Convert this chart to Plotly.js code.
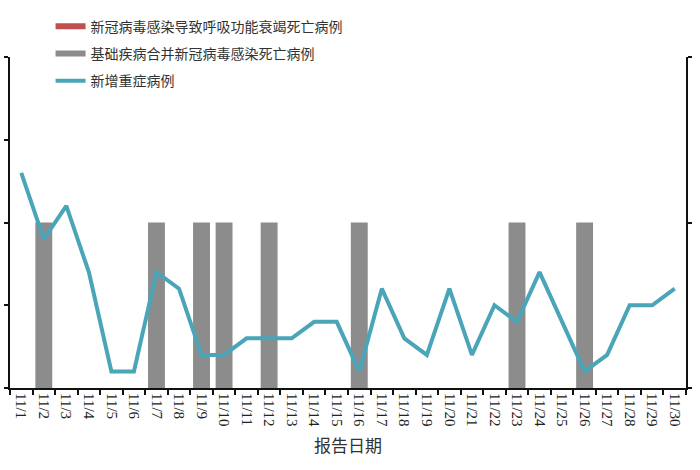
<!DOCTYPE html>
<html>
<head>
<meta charset="utf-8">
<script src="https://cdn.plot.ly/plotly-3.0.1.min.js"></script>
<style>
  html, body { margin: 0; padding: 0; background: #fff; }
  #chart { width: 700px; height: 470px; }
</style>
</head>
<body>
<div id="chart"></div>
<script>
// 报告日期
const dates = ["11/1","11/2","11/3","11/4","11/5","11/6","11/7","11/8","11/9","11/10",
  "11/11","11/12","11/13","11/14","11/15","11/16","11/17","11/18","11/19","11/20",
  "11/21","11/22","11/23","11/24","11/25","11/26","11/27","11/28","11/29","11/30"];

// 新冠病毒感染导致呼吸功能衰竭死亡病例 (right axis)
const respDeaths = [0,0,0,0,0,0,0,0,0,0, 0,0,0,0,0,0,0,0,0,0, 0,0,0,0,0,0,0,0,0,0];

// 基础疾病合并新冠病毒感染死亡病例 (right axis)
const comorbDeaths = [0,1,0,0,0,0,1,0,1,1, 0,1,0,0,0,1,0,0,0,0, 0,0,1,0,0,1,0,0,0,0];

// 新增重症病例 (left axis)
const severeCases = [13,9,11,7,1,1,7,6,2,2, 3,3,3,4,4,1,6,3,2,6, 2,5,4,7,4,1,2,5,5,6];

const names = ["新冠病毒感染导致呼吸功能衰竭死亡病例", "基础疾病合并新冠病毒感染死亡病例", "新增重症病例"];
const colors = ["#c0504d", "#8c8c8c", "#4aa5b8"];

// bars live on the base axis (right side), the line on the overlay (left side) so it sits on top
const traces = [
  {
    type: "bar", x: dates, y: respDeaths, yaxis: "y", name: names[0],
    marker: { color: colors[0] }, width: 0.75, showlegend: false, legendgroup: "a"
  },
  {
    type: "bar", x: dates, y: comorbDeaths, yaxis: "y", name: names[1],
    marker: { color: colors[1] }, width: 0.75, showlegend: false, legendgroup: "b"
  },
  {
    type: "scatter", mode: "lines", x: dates, y: severeCases, yaxis: "y2", name: names[2],
    line: { color: colors[2], width: 4 }, legendgroup: "c", legendrank: 3
  },
  // legend swatches drawn as thick lines like the original
  {
    type: "scatter", mode: "lines", x: [null], y: [null], name: names[0],
    line: { color: colors[0], width: 6 }, legendgroup: "a", legendrank: 1
  },
  {
    type: "scatter", mode: "lines", x: [null], y: [null], name: names[1],
    line: { color: colors[1], width: 6 }, legendgroup: "b", legendrank: 2
  }
];

const layout = {
  width: 700, height: 470,
  margin: { l: 10, r: 14, t: 57, b: 82 },
  paper_bgcolor: "#fff", plot_bgcolor: "#fff",
  font: { family: "Noto Sans CJK SC, sans-serif", color: "#222" },
  barmode: "overlay",
  showlegend: true,
  legend: {
    x: 0.06, y: 1.14, xanchor: "left", yanchor: "top",
    traceorder: "grouped", tracegroupgap: 6,
    font: { size: 14, color: "#333" }, bgcolor: "rgba(0,0,0,0)"
  },
  xaxis: {
    type: "category", range: [-0.5, 29.5],
    showline: true, linecolor: "#111", linewidth: 2, mirror: false,
    ticks: "outside", tickson: "boundaries", ticklen: 5, tickcolor: "#111", tickwidth: 2,
    tickangle: 90, tickfont: { family: "Liberation Serif, serif", size: 15, color: "#222" },
    showgrid: false, zeroline: false,
    title: { text: "报告日期", font: { size: 17, color: "#333" }, standoff: 14 }
  },
  yaxis: {
    side: "right", range: [0, 2], dtick: 1,
    showline: true, linecolor: "#111", linewidth: 2,
    ticks: "outside", ticklen: 4, tickcolor: "#111", tickwidth: 2,
    showticklabels: false, showgrid: false, zeroline: false
  },
  yaxis2: {
    overlaying: "y", side: "left", range: [0, 20], dtick: 5,
    showline: true, linecolor: "#111", linewidth: 2,
    ticks: "outside", ticklen: 4, tickcolor: "#111", tickwidth: 2,
    showticklabels: false, showgrid: false, zeroline: false
  }
};

Plotly.newPlot("chart", traces, layout, { displayModeBar: false, staticPlot: true });
</script>
</body>
</html>
